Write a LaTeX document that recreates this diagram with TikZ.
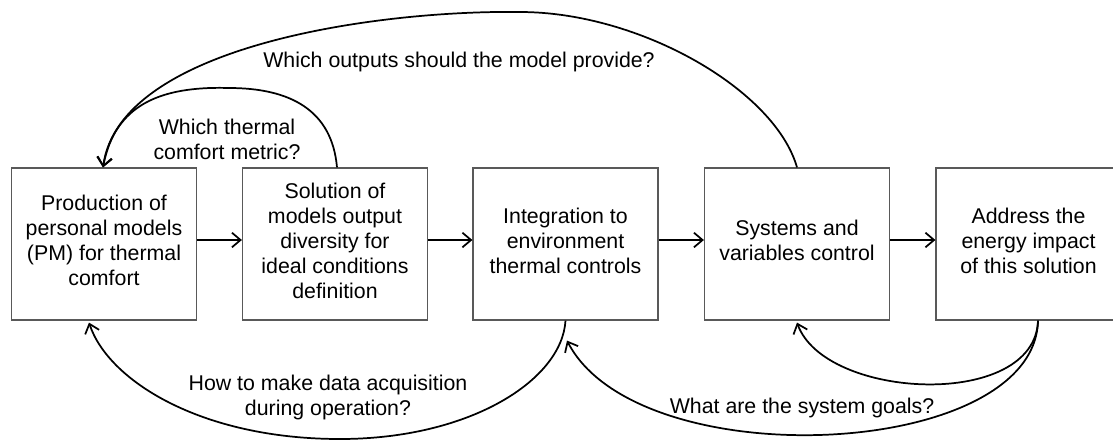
\documentclass[tikz,border=0pt]{standalone}
\usepackage{fontspec}
\setmainfont{Liberation Sans}
\usetikzlibrary{arrows.meta,calc}

\tikzset{
  stage/.style={draw=black!65, line width=0.9pt, minimum width=138.75pt,
    minimum height=114pt, inner sep=0pt},
  stagetext/.style={align=center, inner sep=1pt,
    font=\fontsize{16pt}{18.75pt}\selectfont},
  question/.style={align=center, inner sep=1pt,
    font=\fontsize{16pt}{18.75pt}\selectfont},
  flow/.style={line width=1.3pt, -{Straight Barb[length=6.5pt,width=11pt,line width=1.3pt]}},
}

\begin{document}
\begin{tikzpicture}[x=0.75pt,y=-0.75pt]
\useasboundingbox (0,0) rectangle (1113,439);

% process stages
\node[stage] (b1) at (104,244) {};
\node[stage] (b2) at (335,244) {};
\node[stage] (b3) at (565.5,244) {};
\node[stage] (b4) at (797,244) {};
\node[stage] (b5) at (1028.5,244) {};

% stage captions, set slightly above the box centres
\node[stagetext] (b1t) at ($(b1)+(0,-3.5)$) {Production of\\personal models\\(PM) for thermal\\comfort};
\node[stagetext] (b2t) at ($(b2)+(0,-3.5)$) {Solution of\\models output\\diversity for\\ideal conditions\\definition};
\node[stagetext] (b3t) at ($(b3)+(0,-3.5)$) {Integration to\\environment\\thermal controls};
\node[stagetext] (b4t) at ($(b4)+(0,-3.5)$) {Systems and\\variables control};
\node[stagetext] (b5t) at ($(b5)+(0,-3.5)$) {Address the\\energy impact\\of this solution};

% forward flow
\draw[flow] ([yshift=3pt]b1.east) -- ([yshift=3pt]b2.west);
\draw[flow] ([yshift=3pt]b2.east) -- ([yshift=3pt]b3.west);
\draw[flow] ([yshift=3pt]b3.east) -- ([yshift=3pt]b4.west);
\draw[flow] ([yshift=3pt]b4.east) -- ([yshift=3pt]b5.west);

% attachment points of the feedback loops
\coordinate (t1) at ($(b1.north)+(-1,0)$);
\coordinate (t2) at ($(b2.north)+(2,0)$);
\coordinate (s1) at ($(b1.south)+(-15,2)$);
\coordinate (s5) at ($(b5.south)+(9.5,0)$);
\coordinate (m3) at ($(b3.south)+(1.5,20)$);

% feedback loops above the stages
\draw[flow] (b4.north) .. controls (775,90) and (640,12) .. (520,12)
  .. controls (380,10) and (120,45) .. (t1);
\draw[flow] (t2) .. controls (332,110) and (290,88) .. (229,88)
  .. controls (160,86) and (115,105) .. (t1);

% feedback loops below the stages
\draw[flow] (b3.south) .. controls (562,380) and (470,439) .. (340,439)
  .. controls (200,439) and (108,380) .. (s1);
\draw[flow] (s5) .. controls (1035,410) and (825,400) .. ([yshift=-1.5pt]b4.south);
\draw[flow] (s5) .. controls (1035,460) and (638,478) .. (m3);

% questions
\node[question] (q1) at (459,62) {Which outputs should the model provide?};
\node[question] (q2) at (227,139.5) {Which thermal\\comfort metric?};
\node[question] (q3) at (328,397.5) {How to make data acquisition\\during operation?};
\node[question] (q4) at (802,408) {What are the system goals?};
\end{tikzpicture}
\end{document}
